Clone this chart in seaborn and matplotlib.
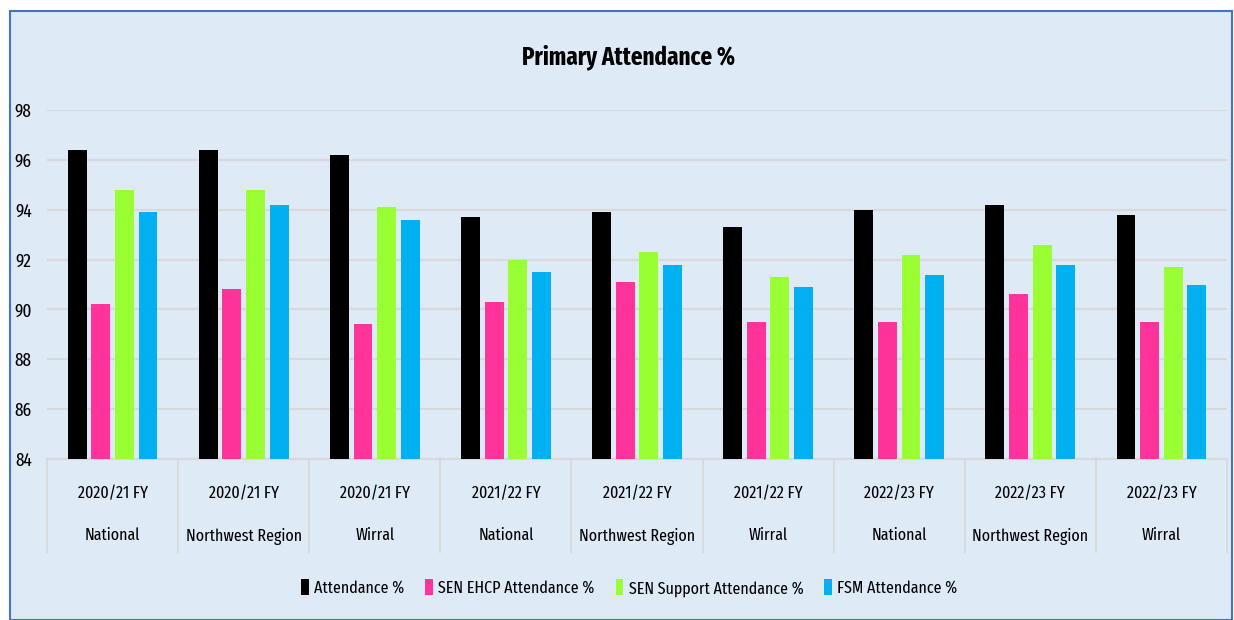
import numpy as np
import pandas as pd
import matplotlib
matplotlib.use("Agg")
import matplotlib.pyplot as plt
from matplotlib.patches import Rectangle
import seaborn as sns

years = ["2020/21 FY"] * 3 + ["2021/22 FY"] * 3 + ["2022/23 FY"] * 3
regions = ["National", "Northwest Region", "Wirral"] * 3
series = ["Attendance %", "SEN EHCP Attendance %",
          "SEN Support Attendance %", "FSM Attendance %"]

attendance = [96.4, 96.4, 96.2, 93.7, 93.9, 93.3, 94.0, 94.2, 93.8]
sen_ehcp = [90.2, 90.8, 89.4, 90.3, 91.1, 89.5, 89.5, 90.6, 89.5]
sen_support = [94.8, 94.8, 94.1, 92.0, 92.3, 91.3, 92.2, 92.6, 91.7]
fsm = [93.9, 94.2, 93.6, 91.5, 91.8, 90.9, 91.4, 91.8, 91.0]

colors = ["#000000", "#FF3399", "#99FF33", "#00B0F0"]

cats = [f"{y}|{r}" for y, r in zip(years, regions)]
rows = []
for s, vals in zip(series, [attendance, sen_ehcp, sen_support, fsm]):
    for c, v in zip(cats, vals):
        rows.append({"cat": c, "series": s, "value": v})
df = pd.DataFrame(rows)

sns.set_style("white")
plt.rcParams["font.family"] = ["Fira Sans Extra Condensed", "DejaVu Sans"]
plt.rcParams["font.weight"] = "normal"
plt.rcParams["text.color"] = "black"
plt.rcParams["xtick.color"] = "black"
plt.rcParams["ytick.color"] = "black"
bg = "#DEEAF6"

fig = plt.figure(figsize=(12.34, 6.2), dpi=100, facecolor="white")
fig.patches.append(Rectangle((10 / 1234, 0), 1222 / 1234, 609 / 620,
                             transform=fig.transFigure, facecolor=bg,
                             edgecolor="#4472C4", linewidth=1.5, zorder=-1))
ax = fig.add_axes([47 / 1234, 1 - 459 / 620, 1180 / 1234, 349 / 620])
ax.set_facecolor(bg)

sns.barplot(data=df, x="cat", y="value", hue="series", order=cats,
            hue_order=series, palette=colors, width=0.72, gap=0.2,
            saturation=1, linewidth=0, ax=ax, zorder=3, legend=True)

ax.set_ylim(84, 98)
ax.set_yticks(np.arange(84, 99, 2))
ax.yaxis.grid(True, color="#D9D9D9", linewidth=1.6, zorder=0)
ax.set_axisbelow(True)
for sp in ["top", "right", "left"]:
    ax.spines[sp].set_visible(False)
ax.spines["bottom"].set_color("#D9D9D9")
ax.spines["bottom"].set_linewidth(1.6)
ax.tick_params(axis="y", length=0, labelsize=13.5, pad=11)
ax.set_xlabel("")
ax.set_ylabel("")

ax.set_xticks(range(len(cats)))
ax.set_xticklabels([f"{y}\n{r}" for y, r in zip(years, regions)],
                   linespacing=3.05)
ax.tick_params(axis="x", length=0, labelsize=12.5, pad=19)
ax.set_xlim(-0.5, len(cats) - 0.5)
ax.vlines(np.arange(len(cats) + 1) - 0.5, -0.27, 0,
          transform=ax.get_xaxis_transform(), color="#D9D9D9",
          linewidth=1.3, clip_on=False)

ax.set_title("Primary Attendance %", fontsize=18, fontweight="bold", pad=33,
             x=0.493)

handles, labels = ax.get_legend_handles_labels()
ax.get_legend().remove()
fig.legend(handles, labels, loc="center", bbox_to_anchor=(0.51, 1 - 588 / 620),
           ncol=4, frameon=False, fontsize=12.5, handlelength=0.45,
           handleheight=1.0, handletextpad=0.3, columnspacing=1.2)

fig.savefig("out.png", dpi=100, facecolor="white")
